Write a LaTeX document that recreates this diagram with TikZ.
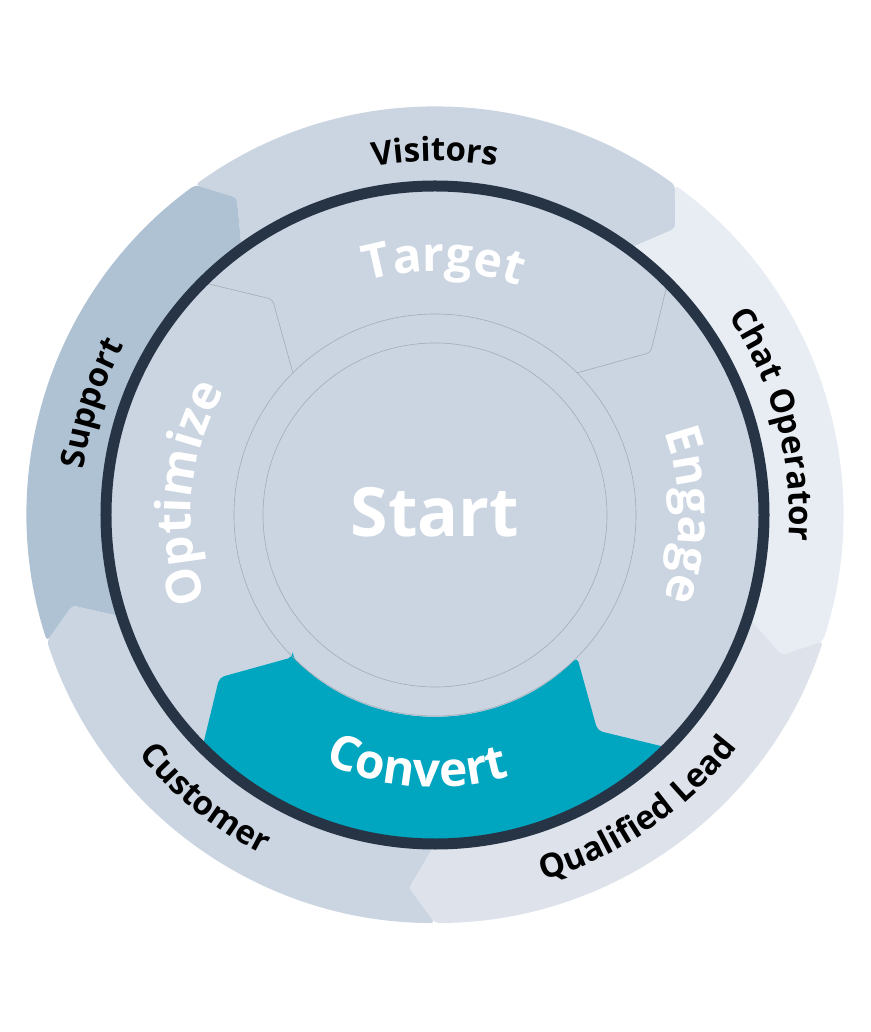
\documentclass[tikz,border=0pt]{standalone}
\usepackage{fontspec}
\setmainfont{Open Sans}
\usetikzlibrary{decorations.text}

\definecolor{ringdark}{HTML}{263445}
\definecolor{gearfill}{HTML}{CBD5E1}
\definecolor{convertfill}{HTML}{00A5BF}
\definecolor{visitorsfill}{HTML}{CBD5E1}
\definecolor{chatfill}{HTML}{E8EDF4}
\definecolor{leadfill}{HTML}{DDE2EB}
\definecolor{customerfill}{HTML}{CBD5E1}
\definecolor{supportfill}{HTML}{AEC2D4}
\definecolor{seamgray}{HTML}{A3ACB7}

\begin{document}
\begin{tikzpicture}[x=1pt,y=1pt,
  seam/.style={draw=seamgray, line width=0.6pt},
  outertext/.style={decorate, decoration={text along path, text align=center,
    text={|\fontsize{33}{33}\selectfont\bfseries\color{black}|#1}}},
  innertext/.style={decorate, decoration={text along path, text align=center,
    text={|\fontsize{48}{48}\selectfont\bfseries\color{white}|#1}}}]
  \useasboundingbox (-435pt,-517pt) rectangle (435pt,515pt);

  % Outer ring: five arrow pieces
  \fill[visitorsfill, rounded corners=4pt] (126:329pt) -- (122:374pt) -- (126:408pt)
    arc[start angle=126, end angle=54, radius=408pt] -- (50:374pt) -- (54:329pt)
    arc[start angle=54, end angle=126, radius=329pt] -- cycle;
  \fill[chatfill, rounded corners=4pt] (54:329pt) -- (50:374pt) -- (54:408pt)
    arc[start angle=54, end angle=-18, radius=408pt] -- (-22:374pt) -- (-18:329pt)
    arc[start angle=-18, end angle=54, radius=329pt] -- cycle;
  \fill[leadfill, rounded corners=4pt] (-18:329pt) -- (-22:374pt) -- (-18:408pt)
    arc[start angle=-18, end angle=-90, radius=408pt] -- (-94:374pt) -- (-90:329pt)
    arc[start angle=-90, end angle=-18, radius=329pt] -- cycle;
  \fill[customerfill, rounded corners=4pt] (-90:329pt) -- (-94:374pt) -- (-90:408pt)
    arc[start angle=-90, end angle=-162, radius=408pt] -- (-166:374pt) -- (-162:329pt)
    arc[start angle=-162, end angle=-90, radius=329pt] -- cycle;
  \fill[supportfill, rounded corners=4pt] (198:329pt) -- (194:374pt) -- (198:408pt)
    arc[start angle=198, end angle=126, radius=408pt] -- (122:374pt) -- (126:329pt)
    arc[start angle=126, end angle=198, radius=329pt] -- cycle;

  % Inner gear
  \fill[gearfill] (0,0) circle[radius=329pt];
  \fill[convertfill, rounded corners=5pt] (225:201pt) -- (217:270pt) -- (225:329pt)
    arc[start angle=225, end angle=315, radius=329pt] -- (307:270pt) -- (315:201pt)
    arc[start angle=315, end angle=225, radius=201pt] -- cycle;
  \draw[seam, rounded corners=4pt] (45:201pt) -- (37:270pt) -- (45:329pt);
  \draw[seam, rounded corners=4pt] (135:201pt) -- (127:270pt) -- (135:329pt);
  \draw[seam] (0,0) circle[radius=201pt];
  \draw[seam] (0,0) circle[radius=172pt];

  % Dark ring
  \draw[ringdark, line width=11pt] (0,0) circle[radius=329pt];

  % Outer labels
  \path[outertext=Visitors] (150:354pt) arc[start angle=150, end angle=30, radius=354pt];
  \path[outertext=Chat Operator] (75:354pt) arc[start angle=75, end angle=-45, radius=354pt];
  \path[outertext=Qualified Lead] (-115.5:381pt) arc[start angle=-115.5, end angle=4.5, radius=381pt];
  \path[outertext=Customer] (171:381pt) arc[start angle=171, end angle=291, radius=381pt];
  \path[outertext=Support] (222:354pt) arc[start angle=222, end angle=102, radius=354pt];

  % Inner labels
  \path[innertext=Target] (148:244pt) arc[start angle=148, end angle=28, radius=244pt];
  \path[innertext=Engage] (60:244pt) arc[start angle=60, end angle=-60, radius=244pt];
  \path[innertext=Optimize] (235:244pt) arc[start angle=235, end angle=115, radius=244pt];
  \path[innertext=Convert] (206:272pt) arc[start angle=206, end angle=326, radius=272pt];

  % Centre
  \node[text=white, font=\fontsize{68}{68}\selectfont\bfseries] (start) at (0,3pt) {Start};
\end{tikzpicture}
\end{document}
